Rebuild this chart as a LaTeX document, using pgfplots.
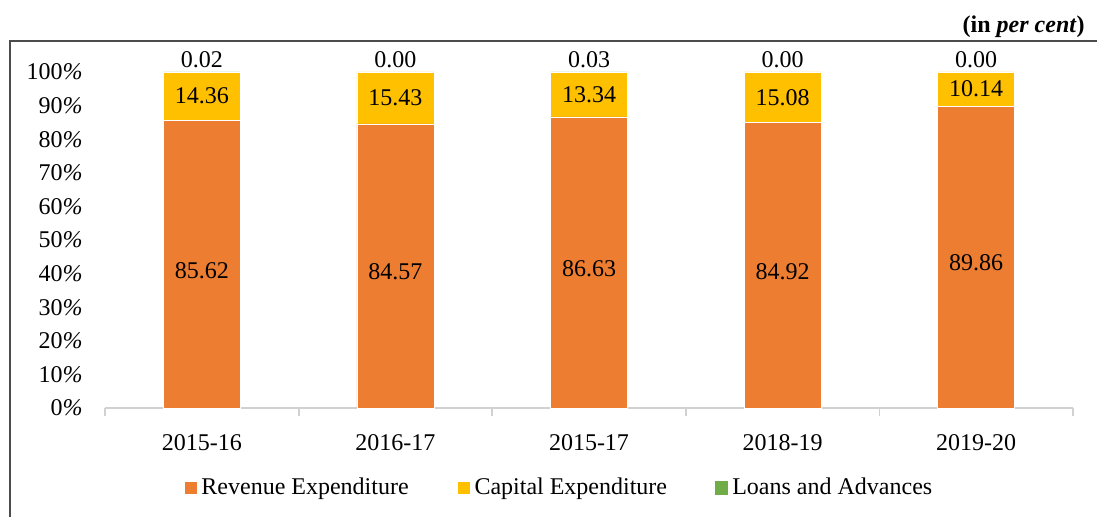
\documentclass[border=0pt]{standalone}
\usepackage{pgfplots}
\usepackage{pgfplotstable}
\pgfplotsset{compat=1.18}
\usepackage{fontspec}
\setmainfont{Liberation Serif}
\definecolor{rev}{HTML}{ED7D31}
\definecolor{cap}{HTML}{FFC000}
\definecolor{loan}{HTML}{70AD47}
\pgfplotstableread{
x rev cap loan revl capl loanl
0 85.62 14.36 0.02 85.62 14.36 0.02
1 84.57 15.43 0.00 84.57 15.43 0.00
2 86.63 13.34 0.03 86.63 13.34 0.03
3 84.92 15.08 0.00 84.92 15.08 0.00
4 89.86 10.14 0.00 89.86 10.14 0.00
}\data
\begin{document}
\fontsize{12}{14}\selectfont
\begin{tikzpicture}[x=1pt,y=1pt]
\useasboundingbox (0,0) rectangle (548.5,258.5);
\draw[line width=0.9pt, black!70] (5,-2) -- (5,238) -- (550,238);
\node[anchor=east, font=\bfseries] at (546.5,245) {(in \textit{per cent})};
\begin{axis}[
  at={(52.5pt,54.5pt)}, anchor=south west,
  scale only axis, width=484pt, height=168pt,
  xmin=-0.5, xmax=4.5, ymin=0, ymax=100,
  clip=false,
  ybar stacked, bar width=38.5pt,
  axis lines*=left,
  y axis line style={draw=none},
  x axis line style={draw=black!18, line width=0.9pt},
  xtick={-0.5,0.5,1.5,2.5,3.5,4.5},
  x tick label as interval,
  xticklabels={2015-16,2016-17,2015-17,2018-19,2019-20},
  x tick label style={yshift=-5pt},
  xtick style={draw=black!18, line width=0.9pt},
  major tick length=4pt, tick align=outside,
  ytick={0,10,...,100},
  yticklabels={0\textit{\%},10\textit{\%},20\textit{\%},30\textit{\%},40\textit{\%},50\textit{\%},60\textit{\%},70\textit{\%},80\textit{\%},90\textit{\%},100\textit{\%}},
  ytick style={draw=none},
  y tick label style={xshift=-3pt},
  tick label style={font=\fontsize{12}{14}\selectfont},
  legend columns=3,
  legend style={draw=none, at={(0.47,-0.238)}, anchor=center, font=\fontsize{12}{14}\selectfont,
    /tikz/every even column/.append style={column sep=22pt}},
  legend image code/.code={\fill[#1] (0pt,-3.3pt) rectangle (6.6pt,3.3pt);},
]
\addplot[fill=rev, draw=white, line width=0.3pt] table[x=x,y=rev] \data;
\addplot[fill=cap, draw=white, line width=0.3pt] table[x=x,y=cap] \data;
\addplot[fill=loan, draw=none] table[x=x,y=loan] \data;
\legend{Revenue Expenditure,Capital Expenditure,Loans and Advances}
\end{axis}
\begin{axis}[
  at={(52.5pt,54.5pt)}, anchor=south west,
  scale only axis, width=484pt, height=168pt,
  xmin=-0.5, xmax=4.5, ymin=0, ymax=100,
  clip=false, hide axis,
  nodes near coords, point meta=explicit symbolic,
  every node near coord/.append style={font=\fontsize{12}{14}\selectfont, anchor=center, inner sep=0pt},
]
\addplot[draw=none, mark=none] table[x=x, y expr=\thisrow{rev}/2-1.8, meta=revl] \data;
\addplot[draw=none, mark=none] table[x=x, y expr=\thisrow{rev}+\thisrow{cap}/2, meta=capl] \data;
\addplot[draw=none, mark=none] table[x=x, y expr=100+3.6, meta=loanl] \data;
\end{axis}
\end{tikzpicture}
\end{document}
